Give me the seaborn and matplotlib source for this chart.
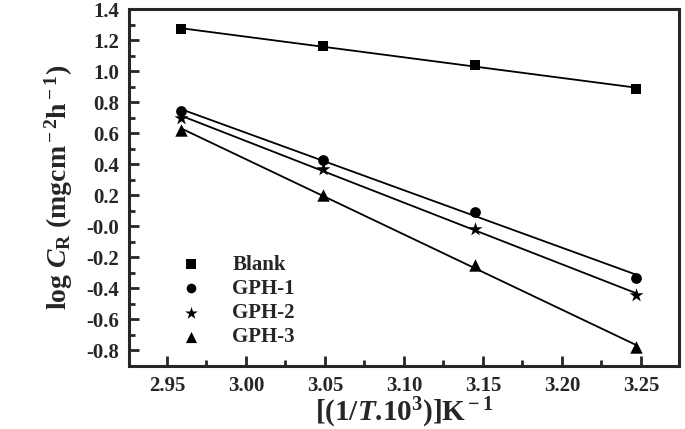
import numpy as np
import seaborn as sns
import matplotlib.pyplot as plt

# 1/T * 10^3 (K^-1)
inv_T = [2.959, 3.049, 3.145, 3.247]

blank = [1.27, 1.16, 1.04, 0.885]
gph1 = [0.74, 0.43, 0.09, -0.33]
gph2 = [0.70, 0.37, -0.02, -0.44]
gph3 = [0.62, 0.20, -0.25, -0.78]

series = ['Blank', 'GPH-1', 'GPH-2', 'GPH-3']
markers = ['s', 'o', '*', '^']
msizes = [55, 60, 110, 80]

sns.set_style('ticks')
plt.rcParams['font.family'] = ['Liberation Serif', 'DejaVu Serif']
plt.rcParams['font.weight'] = 'bold'
plt.rcParams['axes.labelweight'] = 'bold'
plt.rcParams['mathtext.fontset'] = 'custom'
plt.rcParams['mathtext.rm'] = 'Liberation Serif:bold'
plt.rcParams['mathtext.it'] = 'Liberation Serif:bold:italic'
plt.rcParams['mathtext.bf'] = 'Liberation Serif:bold'

fig = plt.figure(figsize=(6.85, 4.29), dpi=100)
ax = fig.add_axes([0.1883, 0.1469, 0.8027, 0.8321])

for name, vals, m, s in zip(series, [blank, gph1, gph2, gph3], markers, msizes):
	sns.regplot(x=np.array(inv_T), y=np.array(vals), ax=ax, ci=None, truncate=True,
		marker=m, color='black', label=name,
		scatter_kws={'s': s, 'alpha': 1, 'linewidths': 0, 'zorder': 3},
		line_kws={'lw': 1.3, 'zorder': 2})

ax.set_xlim(2.926, 3.274)
ax.set_ylim(-0.9, 1.4)
xt = [2.95, 3.00, 3.05, 3.10, 3.15, 3.20, 3.25]
yt = np.round(np.arange(-0.8, 1.41, 0.2), 1)
ax.set_xticks(xt)
ax.set_xticks([2.975, 3.025, 3.075, 3.125, 3.175, 3.225], minor=True)
ax.set_yticks(yt)
ax.set_yticks(np.round(np.arange(-0.9, 1.41, 0.2), 1), minor=True)
ax.set_xticklabels(['%.2f' % v for v in xt])
ax.set_yticklabels(['%.1f' % v for v in yt])
ax.tick_params(which='major', direction='in', length=7, width=2, labelsize=15, pad=7)
ax.tick_params(which='minor', direction='in', length=4, width=2)
for sp in ax.spines.values():
	sp.set_linewidth(2.2)

ax.set_xlabel(r'[(1/$T$.10$^3$)]K$^{\rm -1}$', fontsize=21, labelpad=0)
ax.set_ylabel(r'log $C_{\rm R}$ (mgcm$^{\rm -2}$h$^{\rm -1}$)', fontsize=20, labelpad=8)

ax.legend(loc='lower left', bbox_to_anchor=(0.04, 0.0), frameon=False, fontsize=15,
	handletextpad=1.0, labelspacing=0.2, markerscale=0.9)

fig.savefig('out.png', dpi=100)
